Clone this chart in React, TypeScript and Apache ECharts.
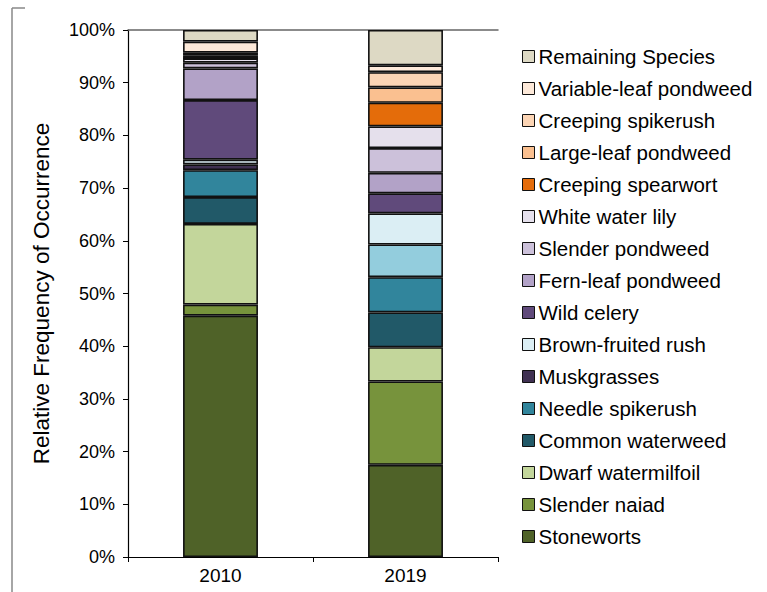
import React, { useEffect, useRef } from "react";
import * as echarts from "echarts";

const years = ["2010", "2019"];

const species = [
  "Stoneworts",
  "Slender naiad",
  "Dwarf watermilfoil",
  "Common waterweed",
  "Needle spikerush",
  "Muskgrasses",
  "Brown-fruited rush",
  "Wild celery",
  "Fern-leaf pondweed",
  "Slender pondweed",
  "White water lily",
  "Creeping spearwort",
  "Large-leaf pondweed",
  "Creeping spikerush",
  "Variable-leaf pondweed",
  "Remaining Species",
];

const colors = [
  "#4f6228",
  "#77933c",
  "#c3d69b",
  "#215968",
  "#31859c",
  "#403152",
  "#dbeef4",
  "#604a7b",
  "#b2a2c7",
  "#ccc1da",
  "#e5e0ec",
  "#e46c0a",
  "#fac090",
  "#fcd5b5",
  "#fde9d9",
  "#ddd9c4",
];

// per-point colour override seen in the 2019 bar (Muskgrasses slot)
const muskgrasses2019Color = "#93cddd";

const values2010 = [45.8, 2.1, 15.3, 5.1, 5.1, 1.1, 0.9, 11.3, 6.0, 1.1, 0.8, 0, 0.6, 0.5, 2.1, 2.2];
const values2019 = [17.5, 15.8, 6.5, 6.6, 6.7, 6.2, 5.9, 3.8, 3.9, 4.7, 4.1, 4.5, 2.9, 2.9, 1.3, 6.7];

const yTicks = [0, 10, 20, 30, 40, 50, 60, 70, 80, 90, 100];

const FONT = "'Liberation Sans', Arial, sans-serif";

export default function App() {
  const ref = useRef<HTMLDivElement>(null);

  useEffect(() => {
    if (!ref.current) return;
    const chart = echarts.init(ref.current, null, { renderer: "svg" });

    const series = species.map((name, i) => ({
      name,
      type: "bar",
      stack: "total",
      barWidth: "40.5%",
      itemStyle: { color: colors[i], borderColor: "#111", borderWidth: 1.6 },
      data: [
        values2010[i],
        i === 5
          ? { value: values2019[i], itemStyle: { color: muskgrasses2019Color } }
          : values2019[i],
      ],
    }));

    chart.setOption({
      animation: false,
      textStyle: { fontFamily: FONT },
      grid: { left: 128, right: 269, top: 30, bottom: 35, containLabel: false },
      legend: {
        orient: "vertical",
        left: 517,
        top: 41,
        itemWidth: 12,
        itemHeight: 12,
        itemGap: 11,
        icon: "rect",
        itemStyle: { borderColor: "#111", borderWidth: 1 },
        textStyle: { fontFamily: FONT, fontSize: 20.5, color: "#000", lineHeight: 21, padding: [0, 0, 0, -1] },
        data: species.slice().reverse(),
      },
      xAxis: [
        {
          type: "category",
          data: years,
          axisLine: { lineStyle: { color: "#000", width: 1.2 } },
          axisTick: { show: true, length: 5, lineStyle: { color: "#000" } },
          axisLabel: { fontFamily: FONT, fontSize: 19, color: "#000", margin: 9 },
        },
        {
          type: "category",
          data: years,
          position: "top",
          axisLine: { show: true, lineStyle: { color: "#666", width: 1.5 } },
          axisTick: { show: false },
          axisLabel: { show: false },
        },
      ],
      yAxis: {
        type: "value",
        min: yTicks[0],
        max: yTicks[yTicks.length - 1],
        interval: 10,
        name: "Relative Frequency of Occurrence",
        nameLocation: "middle",
        nameGap: 75,
        nameTextStyle: { fontFamily: FONT, fontSize: 22.5, color: "#000" },
        axisLine: { show: true, lineStyle: { color: "#000", width: 1.2 } },
        axisTick: { show: true, length: 5, inside: false, lineStyle: { color: "#000" } },
        axisLabel: {
          fontFamily: FONT,
          fontSize: 18,
          color: "#000",
          margin: 13,
          formatter: (v: number) => `${v}%`,
        },
        splitLine: { show: false },
      },
      graphic: [
        { type: "line", shape: { x1: 12, y1: 8, x2: 12, y2: 600 }, style: { stroke: "#888", lineWidth: 1.5 } },
        { type: "line", shape: { x1: 12, y1: 8, x2: 25, y2: 8 }, style: { stroke: "#888", lineWidth: 1.5 } },
      ],
      series,
    });

    return () => chart.dispose();
  }, []);

  return <div ref={ref} style={{ width: 767, height: 592, position: "absolute", left: 0, top: 0 }} />;
}
